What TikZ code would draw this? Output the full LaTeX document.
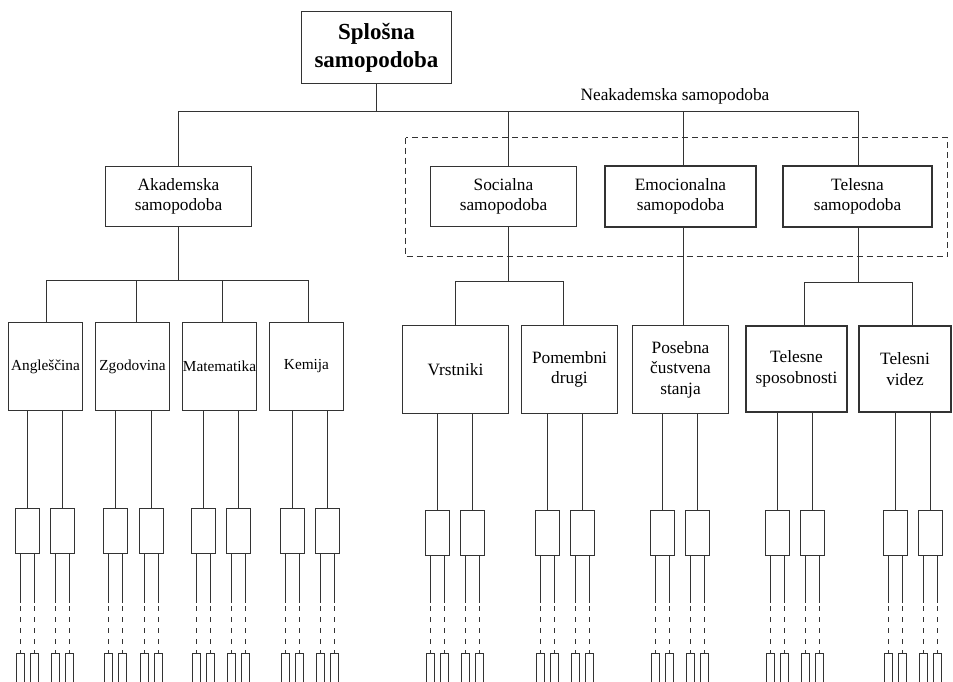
\documentclass[tikz,border=0pt]{standalone}
\usepackage{fontspec}
\setmainfont{Liberation Serif}
\newcommand\fTop{\fontsize{23}{28}\selectfont\bfseries}
\newcommand\fMid{\fontsize{17.3}{20.5}\selectfont}
\newcommand\fSub{\fontsize{15.3}{18}\selectfont}
\tikzset{
  ln/.style={draw=black!80, line width=1.7pt},
  bx/.style={draw=black!80, line width=1.7pt, fill=white, inner sep=0pt, align=center, text=black},
  thk/.style={line width=2.6pt},
  tinybox/.style={draw=black!80, line width=1.7pt, inner sep=0pt, minimum width=8pt, minimum height=40pt},
  grpframe/.style={draw=black!80, line width=1.7pt, dash pattern=on 6pt off 4pt},
  dotline/.style={draw=black!80, line width=1.7pt, dash pattern=on 5pt off 6pt}
}
\begin{document}
\begin{tikzpicture}[x=1pt,y=-1pt]
\useasboundingbox (0,0) rectangle (953,681);
\clip (0,0) rectangle (953,681);
\coordinate (ybr) at (0,603);
\coordinate (ydash) at (0,606);

% level 1
\node[bx, font=\fTop, minimum width=150pt, minimum height=72pt] (top) at (376.5,47.5) {Splošna\\samopodoba};

% level 2
\node[bx, font=\fMid, minimum width=146pt, minimum height=60pt] (aka) at (178.5,196.5) {Akademska\\samopodoba};
\node[bx, font=\fMid, minimum width=146pt, minimum height=60pt] (soc) at (503.5,196.5) {Socialna\\samopodoba};
\node[bx, thk, font=\fMid, minimum width=151pt, minimum height=61pt] (emo) at (680.5,196.5) {Emocionalna\\samopodoba};
\node[bx, thk, font=\fMid, minimum width=149pt, minimum height=61pt] (tls) at (857.5,196.5) {Telesna\\samopodoba};

\node[font=\fMid, anchor=base, inner sep=0pt] (neak) at (675,100) {Neakademska samopodoba};
\draw[grpframe] (405.5,137.5) rectangle (947.5,256.5);

\coordinate (j0) at (376.5,111.5);
\coordinate (jA) at (178.5,111.5);
\coordinate (jS) at (508.5,111.5);
\coordinate (jE) at (683.5,111.5);
\coordinate (jT) at (858.5,111.5);
\draw[ln] (top.south) -- (j0);
\draw[ln] (jA |- aka.north) -- (jA) -- (jT) -- (jT |- tls.north);
\draw[ln] (jS) -- (jS |- soc.north);
\draw[ln] (jE) -- (jE |- emo.north);

% level 3 academic
\node[bx, font=\fSub, minimum width=74pt, minimum height=88pt] (ang) at (45.5,366.5) {Angleščina};
\node[bx, font=\fSub, minimum width=74pt, minimum height=88pt] (zgo) at (132.5,366.5) {Zgodovina};
\node[bx, font=\fSub, minimum width=74pt, minimum height=88pt] (mat) at (219.5,366.5) {Matematika};
\node[bx, font=\fSub, minimum width=74pt, minimum height=88pt] (kem) at (306.5,366.5) {Kemija};
\coordinate (k1) at (46.5,280.5);
\coordinate (k2) at (136.5,280.5);
\coordinate (k3) at (222.5,280.5);
\coordinate (k4) at (308.5,280.5);
\draw[ln] (aka.south) -- (aka.south |- k1);
\draw[ln] (k1 |- ang.north) -- (k1) -- (k4) -- (k4 |- kem.north);
\draw[ln] (k2) -- (k2 |- zgo.north);
\draw[ln] (k3) -- (k3 |- mat.north);

% level 3 non-academic
\node[bx, font=\fMid, minimum width=106pt, minimum height=88pt] (vr) at (455.5,369.5) {Vrstniki};
\node[bx, font=\fMid, minimum width=96pt, minimum height=88pt] (pom) at (569.5,369.5) {Pomembni\\drugi};
\node[bx, font=\fMid, minimum width=96pt, minimum height=88pt] (pos) at (680.5,369.5) {Posebna\\čustvena\\stanja};
\node[bx, thk, font=\fMid, minimum width=101pt, minimum height=86pt] (tsp) at (796.5,369) {Telesne\\sposobnosti};
\node[bx, thk, font=\fMid, minimum width=92pt, minimum height=86pt] (tvi) at (905,369) {Telesni\\videz};
\coordinate (s1) at (455.5,281.5);
\coordinate (s2) at (563.5,281.5);
\draw[ln] (jS |- soc.south) -- (jS |- s1);
\draw[ln] (s1 |- vr.north) -- (s1) -- (s2) -- (s2 |- pom.north);
\draw[ln] (jE |- emo.south) -- (jE |- pos.north);
\coordinate (t1) at (804.5,282.5);
\coordinate (t2) at (912.5,282.5);
\draw[ln] (jT |- tls.south) -- (jT |- t1);
\draw[ln] (t1 |- tsp.north) -- (t1) -- (t2) -- (t2 |- tvi.north);

% level 4 and below
\foreach \n/\x/\y/\p in {
  a1/27.5/531/ang, a2/62.5/531/ang, a3/115.5/531/zgo, a4/151.5/531/zgo,
  a5/203.5/531/mat, a6/238.5/531/mat, a7/292.5/531/kem, a8/327.5/531/kem,
  b1/437.5/533/vr, b2/472.5/533/vr, b3/547.5/533/pom, b4/582.5/533/pom,
  b5/662.5/533/pos, b6/697.5/533/pos, b7/777.5/533/tsp, b8/812.5/533/tsp,
  b9/895.5/533/tvi, b10/930.5/533/tvi}{
  \node[bx, minimum width=24pt, minimum height=45pt] (\n) at (\x,\y) {};
  \draw[ln] (\n.north) -- (\n.north |- \p.south);
  \foreach \s/\d in {L/-7,R/7}{
    \node[tinybox, anchor=north] (\n\s) at ({\x+\d},652.5) {};
    \draw[ln] (\n.south -| \n\s.north) -- (\n\s.north |- ybr);
    \draw[dotline] (\n\s.north |- ydash) -- (\n\s.north);
  }
}
\end{tikzpicture}
\end{document}
